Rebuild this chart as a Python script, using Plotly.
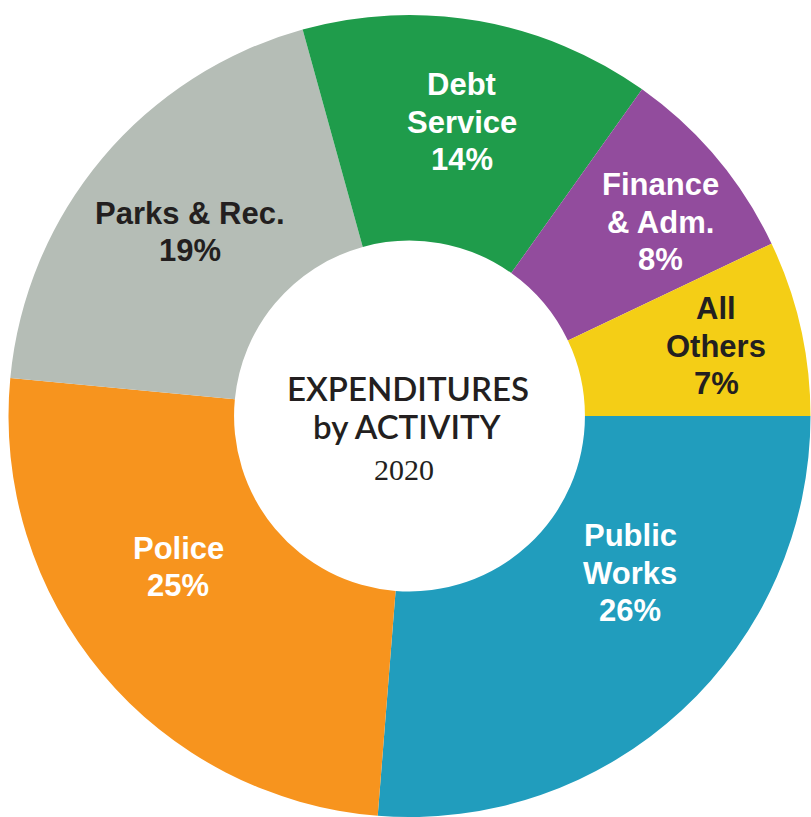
import plotly.graph_objects as go

# ---- data ----
categories = ["Public Works", "Police", "Parks & Rec.", "Debt Service", "Finance & Adm.", "All Others"]
label_lines = [["Public", "Works"], ["Police"], ["Parks & Rec."], ["Debt", "Service"], ["Finance", "& Adm."], ["All", "Others"]]
shares = [26, 25, 19, 14, 8, 7]
center_title = ["EXPENDITURES", "by ACTIVITY"]
center_year = "2020"

# ---- styles ----
colors = ["#219dbd", "#f7941e", "#b5bdb6", "#1f9c4b", "#924c9d", "#f4ce16"]
text_colors = ["#ffffff", "#ffffff", "#231f20", "#ffffff", "#ffffff", "#231f20"]
# label block centers in pixels (x from left, y from top)
label_pos = [(630, 573), (178, 567), (190, 232), (462, 122), (660, 222), (716, 346)]
line_gap = 37.5
title_pos = [(408, 388), (408, 426)]

W, H = 811, 817

fig = go.Figure()
fig.add_trace(go.Pie(
    labels=categories,
    values=shares,
    hole=0.4375,
    sort=False,
    direction="clockwise",
    rotation=90,
    marker=dict(colors=colors, line=dict(width=0)),
    textinfo="none",
    showlegend=False,
    domain=dict(x=[8 / W, 1.0], y=[0.0, 802 / H]),
))

annotations = []
for lines, val, tc, (px, py) in zip(label_lines, shares, text_colors, label_pos):
    all_lines = list(lines) + [f"{val}%"]
    n = len(all_lines)
    for i, ln in enumerate(all_lines):
        ly = py + (i - (n - 1) / 2) * line_gap
        annotations.append(dict(
            x=px / W, y=1 - ly / H, xref="paper", yref="paper",
            text=f"<b>{ln}</b>", showarrow=False,
            font=dict(family="Liberation Sans, Arial, sans-serif", size=31, color=tc),
            xanchor="center", yanchor="middle", align="center",
        ))

for line, (px, py) in zip(center_title, title_pos):
    annotations.append(dict(
        x=px / W, y=1 - py / H, xref="paper", yref="paper",
        text=line, showarrow=False,
        font=dict(family="Lato, sans-serif", size=33, weight=600, color="#231f20"),
        xanchor="center", yanchor="middle", align="center",
    ))
annotations.append(dict(
    x=404 / W, y=1 - 470 / H, xref="paper", yref="paper",
    text=center_year, showarrow=False,
    font=dict(family="Liberation Serif, Times New Roman, serif", size=30, color="#231f20"),
    xanchor="center", yanchor="middle", align="center",
))

fig.update_layout(
    width=W, height=H,
    margin=dict(l=0, r=0, t=0, b=0, pad=0),
    paper_bgcolor="#ffffff",
    plot_bgcolor="#ffffff",
    annotations=annotations,
)

fig.write_html(
    "out.html",
    config={"displayModeBar": False},
    post_script="document.body.style.margin='0';document.body.style.overflow='hidden';",
)
